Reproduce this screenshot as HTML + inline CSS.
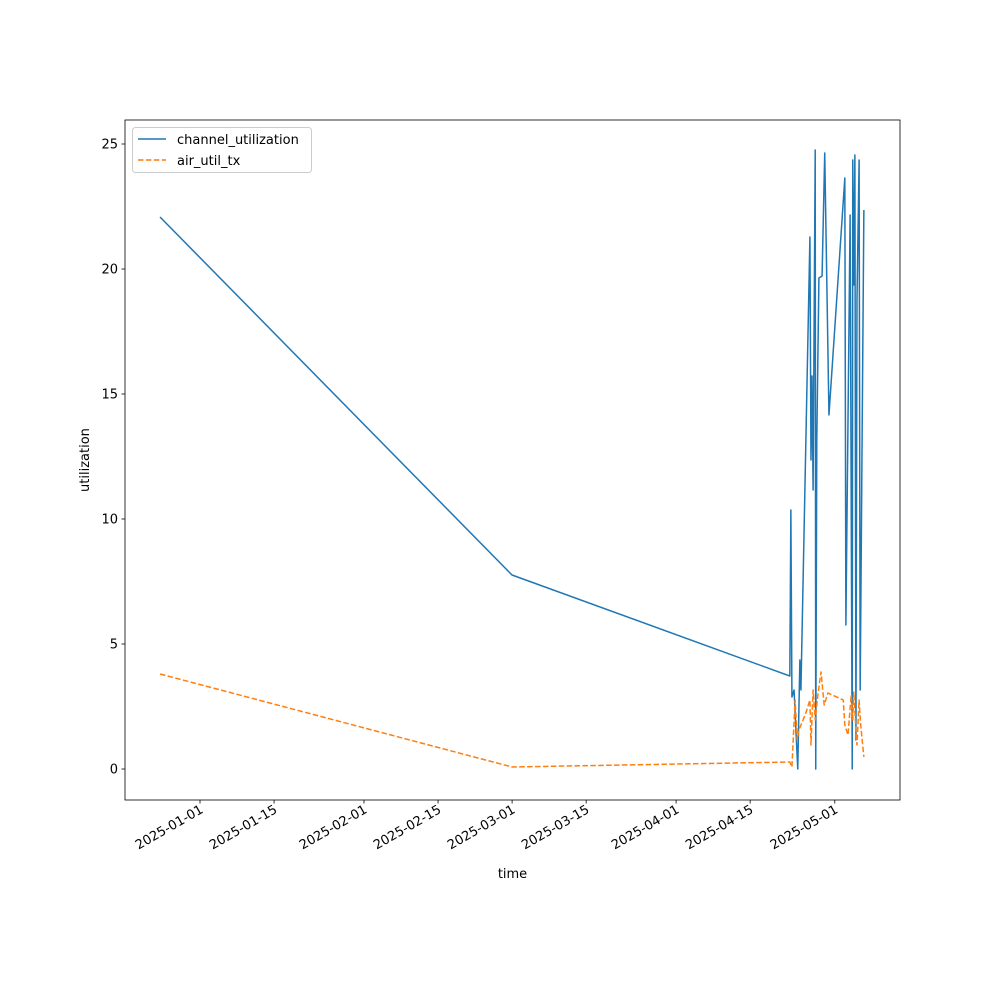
<!DOCTYPE html>
<html><head><meta charset="utf-8"><style>
body{margin:0;background:#fff}
svg text{font-family:"DejaVu Sans","Liberation Sans",sans-serif;font-size:13px;fill:#000}
</style></head><body>
<svg id="chart" width="1000" height="1000" xmlns="http://www.w3.org/2000/svg">
<rect width="1000" height="1000" fill="#fff"/>
<g id="plot"></g>
</svg>
<script>
// days offset from 2025-01-01
const blueDays=[-7.56,58.98,111.5,111.7,111.9,112.3,113.0,113.4,113.6,115.3,115.5,115.7,115.9,116.3,116.4,116.6,117.0,117.6,118.1,118.9,121.9,122.1,122.9,123.3,123.4,123.6,123.8,124.0,124.2,124.6,124.8,125.5];
const blueVals=[22.08,7.76,3.72,10.36,2.88,3.16,0,4.36,3.16,21.28,12.36,15.72,11.16,24.76,0,13.16,19.64,19.72,24.64,14.16,23.64,5.76,22.16,0,24.36,19.36,24.56,1.16,18.76,24.36,3.16,22.36];
const orangeDays=[-7.56,59,111.5,111.9,112.5,112.9,113.2,114.4,115.3,115.5,115.9,116.3,116.8,117.4,118.0,118.7,121.6,121.9,122.5,123.1,123.4,123.6,124.0,124.2,124.6,124.9,125.5];
const orangeVals=[3.8,0.08,0.28,0.08,2.76,1.16,1.56,2.16,2.76,0.96,3.16,1.96,2.96,3.88,2.56,3.04,2.76,1.76,1.36,2.96,1.96,3.08,1.56,0.96,2.76,1.76,0.48];
const xTickDays=[0,14,31,45,59,73,90,104,120];
const xTickLabels=["2025-01-01","2025-01-15","2025-02-01","2025-02-15","2025-03-01","2025-03-15","2025-04-01","2025-04-15","2025-05-01"];
const yTicks=[0,5,10,15,20,25];

const L=125,R=900,T=120,B=800;
const xMin=-14.18,xMax=132.33,yMin=-1.24,yMax=25.96;
const X=d=>L+(d-xMin)/(xMax-xMin)*(R-L);
const Y=v=>B-(v-yMin)/(yMax-yMin)*(B-T);
const g=document.getElementById('plot');
const NS='http://www.w3.org/2000/svg';
function mk(t,a,p){const e=document.createElementNS(NS,t);for(const k in a)e.setAttribute(k,a[k]);(p||g).appendChild(e);return e;}

function line(days,vals,color,dash,name){
  const pts=days.map((d,i)=>X(d).toFixed(2)+','+Y(vals[i]).toFixed(2)).join(' ');
  const a={points:pts,fill:'none',stroke:color,'stroke-width':1.5,'stroke-linejoin':'round'};
  if(dash)a['stroke-dasharray']=dash;
  const e=mk('polyline',a);
  
  
}
line(blueDays,blueVals,'#1f77b4',null,'channel-utilization-line');
line(orangeDays,orangeVals,'#ff7f0e','5.5,2.4','air-util-tx-line');

const frame=mk('rect',{x:L,y:T,width:R-L,height:B-T,fill:'none',stroke:'#000','stroke-width':0.8});



yTicks.forEach(v=>{
  const y=Y(v);
  const t=mk('line',{x1:L,x2:L-3.5,y1:y,y2:y,stroke:'#000','stroke-width':0.8});
  
  
  const tx=mk('text',{x:L-7,y:y+4.5,'text-anchor':'end'});tx.textContent=v;
  
  
});
xTickDays.forEach((d,i)=>{
  const x=X(d);
  const t=mk('line',{x1:x,x2:x,y1:B,y2:B+3.5,stroke:'#000','stroke-width':0.8});
  
  
  const tx=mk('text',{x:x+4,y:B+12,'text-anchor':'end',transform:`rotate(-30 ${x+4} ${B+12})`});
  tx.textContent=xTickLabels[i];
  
  
});
const xt=mk('text',{x:(L+R)/2,y:878,'text-anchor':'middle'});xt.textContent='time';


const yt=mk('text',{x:89,y:(T+B)/2,'text-anchor':'middle',transform:`rotate(-90 89 ${(T+B)/2})`});yt.textContent='utilization';



const lg=mk('g',{});


mk('rect',{x:132.5,y:127.5,width:179,height:45,rx:3,fill:'#fff','fill-opacity':0.8,stroke:'#ccc'},lg);
mk('line',{x1:138,x2:166,y1:139,y2:139,stroke:'#1f77b4','stroke-width':1.5},lg);
const l1=mk('text',{x:177,y:144},lg);l1.textContent='channel_utilization';


mk('line',{x1:138,x2:166,y1:160,y2:160,stroke:'#ff7f0e','stroke-width':1.5,'stroke-dasharray':'5.5,2.4'},lg);
const l2=mk('text',{x:177,y:165},lg);l2.textContent='air_util_tx';


</script>
</body></html>
